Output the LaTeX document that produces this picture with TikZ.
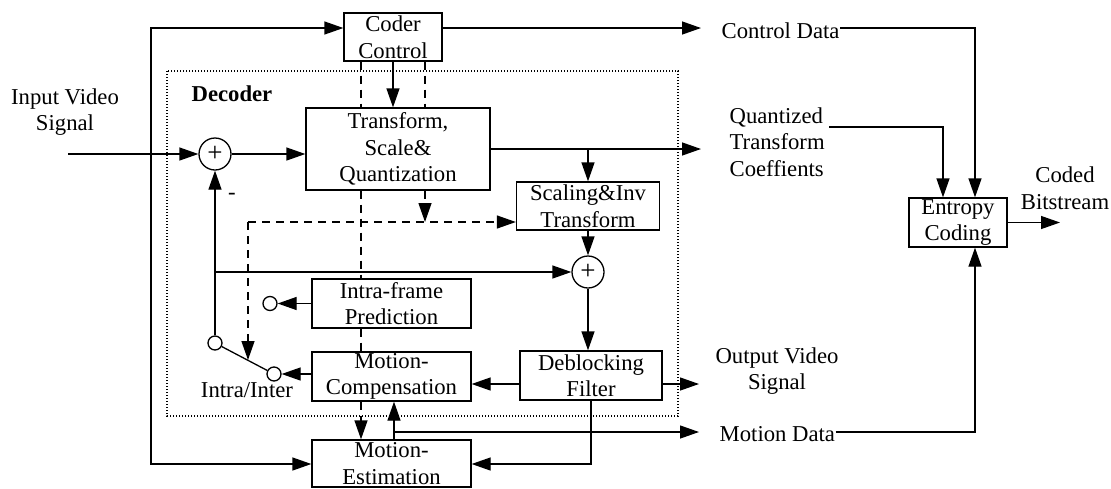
\documentclass[tikz,border=0pt]{standalone}
\usepackage{fontspec}
\setmainfont{Liberation Serif}
\usetikzlibrary{arrows.meta}

\begin{document}
\begin{tikzpicture}[x=1pt,y=-1pt,line width=1.3pt,
  font=\fontsize{22.7}{26.5}\selectfont,
  arr/.style={-{Triangle[length=19pt,width=13pt]}},
  arrs/.style={{Triangle[length=19pt,width=13pt]}-{Triangle[length=19pt,width=13pt]}},
  dsh/.style={dash pattern=on 8pt off 6pt},
  decbox/.style={line width=1.2pt,dash pattern=on 1.2pt off 1.8pt},
  blk/.style={draw,fill=white,align=center,inner sep=0pt},
  sumnode/.style={draw,fill=white,circle,minimum size=32pt,inner sep=0pt,font=\fontsize{27}{27}\selectfont},
  pin/.style={draw,fill=white,circle,minimum size=14pt,inner sep=0pt},
  lbl/.style={align=center,inner sep=0pt}]
\useasboundingbox (0,0) rectangle (1111,488);

% decoder loop
\draw[decbox] (167,71) rectangle (678,416);
\node[lbl,anchor=west,font=\fontsize{22.7}{26.5}\selectfont\bfseries] (dec) at (191,94) {Decoder};

% blocks
\node[blk,minimum width=98pt,minimum height=48pt] (cc) at (393,37) {Coder\\Control};
\node[blk,minimum width=184pt,minimum height=82pt] (tsq) at (398,149) {Transform,\\Scale\&\\Quantization};
\node[blk,minimum width=143pt,minimum height=48pt] (sit) at (588,206) {Scaling\&Inv\\Transform};
\node[blk,minimum width=159pt,minimum height=49pt] (itp) at (391.5,303.5) {Intra-frame\\Prediction};
\node[blk,minimum width=159pt,minimum height=49pt] (mc) at (391.5,376.5) {Motion-\\Compensation};
\node[blk,minimum width=142pt,minimum height=49pt] (df) at (591,375.5) {Deblocking\\Filter};
\node[blk,minimum width=159pt,minimum height=47pt] (me) at (391.5,463.5) {Motion-\\Estimation};
\node[blk,minimum width=98pt,minimum height=49pt] (ec) at (958,222.5) {Entropy\\Coding};
\node[sumnode] (sum1) at (215,154) {+};
\node[sumnode] (sum2) at (588,272) {+};
\node[pin] (swa) at (215,343) {};
\node[pin] (swb) at (274,374) {};
\node[pin] (swi) at (270,303.5) {};

% labels
\node[lbl] (vi) at (65,112) {Input Video\\Signal};
\node[lbl,anchor=west] (cd) at (721,31) {Control Data};
\node[lbl,anchor=west,align=left] (qtc) at (729,142) {Quantized\\Transform\\Coeffients};
\node[lbl] (cb) at (1065,188) {Coded\\Bitstream};
\node[lbl] (ov) at (777,371) {Output Video\\Signal};
\node[lbl,anchor=west] (md) at (719,434) {Motion Data};
\node[lbl] (ii) at (247,390) {Intra/Inter};
\node[lbl] (neg) at (232,196) {-};

\coordinate (vin) at (68,154);
\coordinate (tl) at (151,28);
\coordinate (bl) at (151,464);
\coordinate (cdtip) at (701,28);
\coordinate (qttip) at (701,149);
\coordinate (qtout) at (829,127);
\coordinate (ecl) at (943,222);
\coordinate (ecr) at (975,222);
\coordinate (cbtip) at (1060,222.5);
\coordinate (j1) at (215,272);
\coordinate (j2) at (394,432);
\coordinate (mdtip) at (699,432);
\coordinate (dfo) at (591,384);
\coordinate (ovtip) at (699,384);
\coordinate (dx1) at (361,0);
\coordinate (dx2) at (425,0);
\coordinate (dh) at (248,222);
\coordinate (swtip) at (248,360);

% control (dashed)
\draw[dsh] (dx1 |- cc.south) -- (dx1 |- tsq.north);
\draw[dsh] (dx1 |- tsq.south) -- (dx1 |- itp.north);
\draw[dsh] (dx1 |- itp.south) -- (dx1 |- mc.north);
\draw[dsh,arr] (dx1 |- mc.south) -- (dx1 |- me.north);
\draw[dsh] (dx2 |- cc.south) -- (dx2 |- tsq.north);
\draw[dsh,arr] (dx2 |- tsq.south) -- (dx2 |- dh);
\draw[dsh,arr] (dh) -- (dh -| sit.west);
\draw[dsh,arr] (dh) -- (swtip);

% signal path
\draw[arr] (vin) -- (sum1);
\draw[arr] (sum1) -- (sum1 -| tsq.west);
\draw[arrs] (tl -| cc.west) -- (tl) -- (bl) -- (bl -| me.west);
\draw[arr] (cc.south) -- (cc.south |- tsq.north);
\draw[arr] (tl -| cc.east) -- (cdtip);
\draw[arr] (cd.east |- tl) -| (ecr |- ec.north);
\draw[arr] (tsq.east) -- (qttip);
\draw[arr] (tsq.east -| sit.north) -- (sit.north);
\draw[arr] (qtout) -| (ecl |- ec.north);
\draw[arr] (ec.east) -- (cbtip);
\draw[arr] (sit.south) -- (sum2);
\draw[arr] (sum2) -- (sum2 |- df.north);
\draw[arr] (swa) -- (sum1);
\draw[arr] (j1) -- (sum2);
\draw (swa) -- (swb);
\draw[arr] (itp.west) -- (swi);
\draw[arr] (swb -| mc.west) -- (swb);
\draw[arr] (dfo -| df.west) -- (dfo -| mc.east);
\draw[arr] (dfo -| df.east) -- (ovtip);
\draw[arr] (df.south) |- (bl -| me.east);
\draw[arr] (j2 |- me.north) -- (j2 |- mc.south);
\draw[arr] (j2) -- (mdtip);
\draw[arr] (md.east |- j2) -| (ecr |- ec.south);
\end{tikzpicture}
\end{document}
